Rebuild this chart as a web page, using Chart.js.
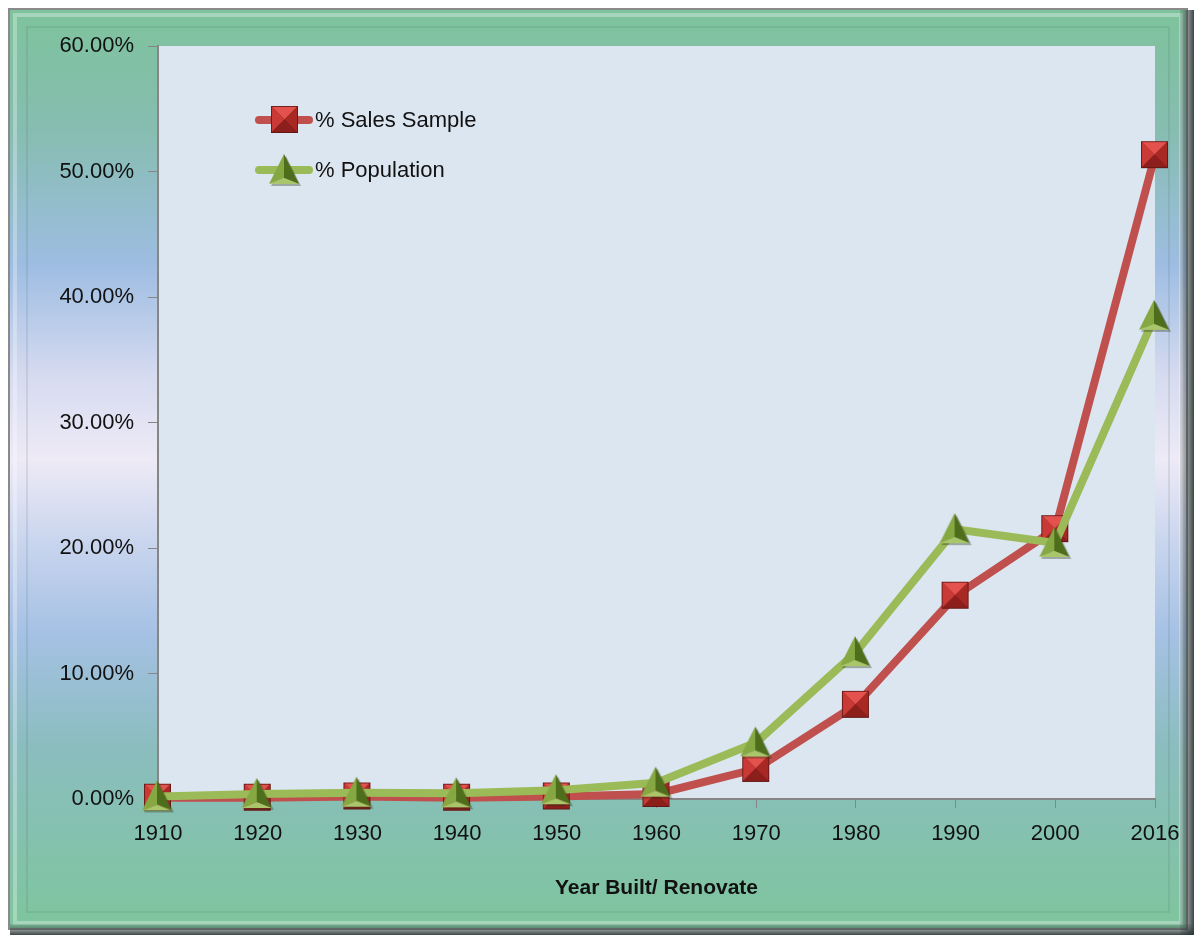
<!DOCTYPE html>
<html>
<head>
<meta charset="utf-8">
<script src="https://cdn.jsdelivr.net/npm/chart.js@4.4.1/dist/chart.umd.min.js"></script>
<style>
  html, body { margin: 0; padding: 0; background: #ffffff; }
  #wrap { width: 1194px; height: 935px; }
</style>
</head>
<body>
<div id="wrap"><canvas id="yearChart" width="1194" height="935"></canvas></div>
<script>
const years = ["1910", "1920", "1930", "1940", "1950", "1960", "1970", "1980", "1990", "2000", "2016"];
const salesSample = [0.1, 0.1, 0.2, 0.1, 0.2, 0.4, 2.4, 7.5, 16.2, 21.5, 51.3];
const population = [0.2, 0.4, 0.5, 0.45, 0.7, 1.3, 4.5, 11.7, 21.5, 20.4, 38.5];
const yTicks = [0, 10, 20, 30, 40, 50, 60];
const seriesNames = ["% Sales Sample", "% Population"];
const xTitle = "Year Built/ Renovate";

const FONT = "'Liberation Sans', Arial, sans-serif";

// beveled markers like the excel ones
function squareMarker() {
    const c = document.createElement("canvas");
    c.width = 30; c.height = 30;
    const g = c.getContext("2d");
    const s = 27, o = 1, m = o + s / 2;
    g.fillStyle = "#6e1414";
    g.fillRect(o, o, s, s);
    const face = (pts, col) => {
        g.beginPath();
        g.moveTo(pts[0][0], pts[0][1]);
        pts.slice(1).forEach(p => g.lineTo(p[0], p[1]));
        g.closePath();
        g.fillStyle = col;
        g.fill();
    };
    face([[o, o], [o + s, o], [m, m]], "#e4524e");
    face([[o, o], [m, m], [o, o + s]], "#c93a36");
    face([[o + s, o], [o + s, o + s], [m, m]], "#a82824");
    face([[o, o + s], [o + s, o + s], [m, m]], "#8c1e1c");
    g.strokeStyle = "rgba(90,20,20,0.8)";
    g.lineWidth = 1;
    g.strokeRect(o + 0.5, o + 0.5, s - 1, s - 1);
    return c;
}

function triangleMarker() {
    const c = document.createElement("canvas");
    c.width = 34; c.height = 34;
    const g = c.getContext("2d");
    const face = (pts, col) => {
        g.beginPath();
        g.moveTo(pts[0][0], pts[0][1]);
        pts.slice(1).forEach(p => g.lineTo(p[0], p[1]));
        g.closePath();
        g.fillStyle = col;
        g.fill();
    };
    // shadow
    face([[18, 3], [33, 33], [3, 33]], "rgba(40,50,20,0.35)");
    face([[16, 1], [1, 31], [16, 25]], "#86a843");
    face([[16, 1], [31, 31], [16, 25]], "#4f6e1c");
    face([[1, 31], [31, 31], [16, 25]], "#a9c66a");
    return c;
}

const squareImg = squareMarker();
const triangleImg = triangleMarker();

const framePlugin = {
    id: "frame",
    beforeDraw(chart) {
        const ctx = chart.ctx;
        const W = chart.width, H = chart.height;
        ctx.save();
        ctx.fillStyle = "#ffffff";
        ctx.fillRect(0, 0, W, H);
        const grad = ctx.createLinearGradient(0, 8, 0, H - 6);
        grad.addColorStop(0, "#7ec39c");
        grad.addColorStop(0.13, "#86bdb0");
        grad.addColorStop(0.28, "#9ebde2");
        grad.addColorStop(0.40, "#d6dbf0");
        grad.addColorStop(0.49, "#eeeaf6");
        grad.addColorStop(0.58, "#c9d5ee");
        grad.addColorStop(0.68, "#a5c1e4");
        grad.addColorStop(0.80, "#8bbdbf");
        grad.addColorStop(1, "#7ec59d");
        ctx.fillStyle = grad;
        ctx.fillRect(8, 8, W - 14, H - 13);
        // bevel
        ctx.strokeStyle = "#8a8a8a";
        ctx.lineWidth = 2;
        ctx.strokeRect(9, 9, W - 16, H - 15);
        ctx.strokeStyle = "rgba(255,255,255,0.3)";
        ctx.lineWidth = 4;
        ctx.strokeRect(15, 15, W - 28, H - 27);
        ctx.strokeStyle = "rgba(60,90,80,0.12)";
        ctx.lineWidth = 2;
        ctx.strokeRect(27, 27, W - 52, H - 50);
        // right and bottom shadow
        const rs = ctx.createLinearGradient(W - 14, 0, W, 0);
        rs.addColorStop(0, "rgba(60,70,70,0.15)");
        rs.addColorStop(1, "rgba(40,50,50,0.9)");
        ctx.fillStyle = rs;
        ctx.fillRect(W - 14, 10, 14, H - 10);
        const bs = ctx.createLinearGradient(0, H - 11, 0, H);
        bs.addColorStop(0, "rgba(60,70,70,0.15)");
        bs.addColorStop(1, "rgba(40,50,50,0.9)");
        ctx.fillStyle = bs;
        ctx.fillRect(10, H - 11, W - 10, 11);
        // plot area
        const a = chart.chartArea;
        ctx.fillStyle = "#dce6f1";
        ctx.fillRect(a.left, a.top, a.right - a.left, a.bottom - a.top);
        ctx.restore();
    }
};

const legendPlugin = {
    id: "insideLegend",
    afterDraw(chart) {
        const ctx = chart.ctx;
        ctx.save();
        chart.data.datasets.forEach((ds, i) => {
            const y = 120 + i * 50;
            ctx.strokeStyle = ds.borderColor;
            ctx.lineWidth = 8;
            ctx.lineCap = "round";
            ctx.beginPath();
            ctx.moveTo(259, y);
            ctx.lineTo(309, y);
            ctx.stroke();
            const img = ds.pointStyle;
            ctx.drawImage(img, 285 - img.width / 2, y - img.height / 2);
            ctx.fillStyle = "#111111";
            ctx.font = "22px " + FONT;
            ctx.textAlign = "left";
            ctx.textBaseline = "middle";
            ctx.fillText(ds.label, 315, y + 1);
        });
        ctx.restore();
    }
};

const ctx = document.getElementById("yearChart").getContext("2d");
const yearChart = new Chart(ctx, {
    type: "line",
    data: {
        labels: years,
        datasets: [
            {
                label: seriesNames[0],
                data: salesSample,
                borderColor: "#c0504d",
                borderWidth: 8,
                pointStyle: squareImg,
                tension: 0,
                clip: false,
                order: 1
            },
            {
                label: seriesNames[1],
                data: population,
                borderColor: "#9bbb59",
                borderWidth: 8,
                pointStyle: triangleImg,
                tension: 0,
                clip: false,
                order: 0
            }
        ]
    },
    options: {
        responsive: false,
        animation: false,
        devicePixelRatio: 1,
        layout: { padding: { top: 46, right: 39, bottom: 22, left: 0 } },
        plugins: {
            legend: { display: false },
            tooltip: { enabled: false }
        },
        scales: {
            x: {
                type: "category",
                offset: false,
                grid: {
                    display: true,
                    drawOnChartArea: false,
                    color: "#868686",
                    tickLength: 9
                },
                border: { display: true, color: "#868686", width: 2 },
                ticks: {
                    color: "#111111",
                    font: { family: FONT, size: 22 },
                    padding: 13,
                    maxRotation: 0,
                    autoSkip: false
                },
                title: {
                    display: true,
                    text: xTitle,
                    color: "#111111",
                    font: { family: FONT, size: 21, weight: "bold" },
                    padding: { top: 8, bottom: 12 }
                },
                afterFit(scale) { scale.height = 114; }
            },
            y: {
                min: 0,
                max: 60,
                afterBuildTicks(scale) { scale.ticks = yTicks.map(v => ({ value: v })); },
                grid: {
                    display: true,
                    drawOnChartArea: false,
                    color: "#868686",
                    tickLength: 10
                },
                border: { display: true, color: "#868686", width: 2 },
                ticks: {
                    color: "#111111",
                    font: { family: FONT, size: 22 },
                    padding: 14,
                    callback: v => v.toFixed(2) + "%"
                },
                afterFit(scale) { scale.width = 158; }
            }
        }
    },
    plugins: [framePlugin, legendPlugin]
});
</script>
</body>
</html>
